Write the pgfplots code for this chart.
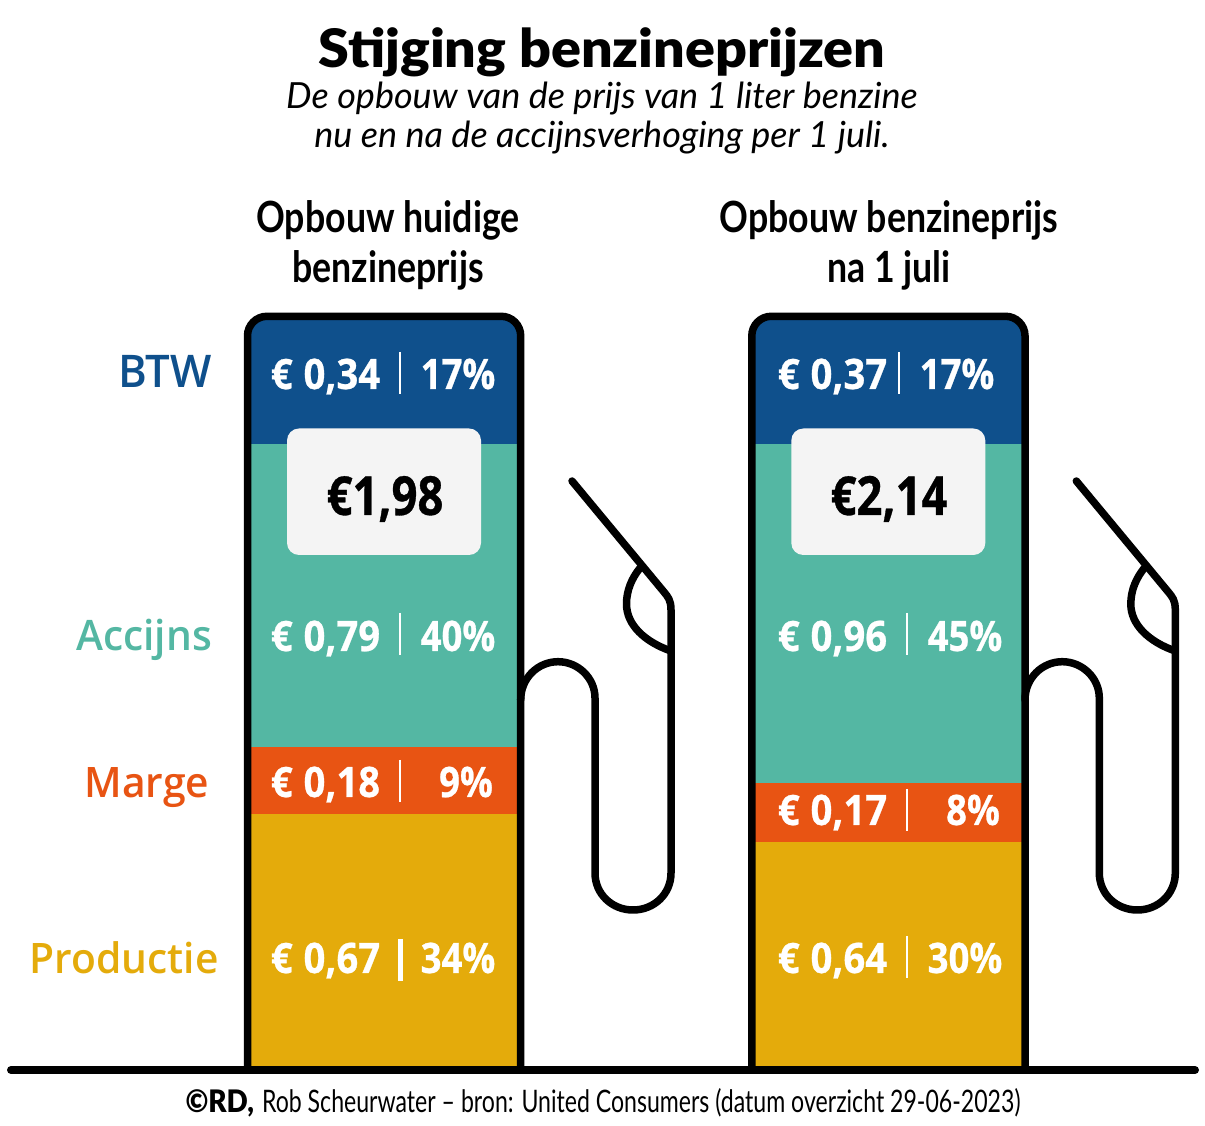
\documentclass[border=0pt]{standalone}
\usepackage{pgfplots}
\pgfplotsset{compat=1.18}
\usepackage{fontspec}
\setmainfont{Lato}
\newfontfamily\titlef[FakeStretch=1.05]{Lato Black}
\newfontfamily\subf[ItalicFont=Lato Italic]{Lato}
\newfontfamily\headf[FakeStretch=0.83]{Lato Bold}
\newfontfamily\valf[FakeStretch=0.87,FakeBold=0.6]{Open Sans Bold}
\newfontfamily\valn[FakeStretch=0.91,FakeBold=0.6]{Open Sans Bold}
\newfontfamily\boxf[FakeStretch=0.84,FakeBold=0.6]{Open Sans Bold}
\newfontfamily\labf[FakeStretch=0.97]{Open Sans Semibold}
\newfontfamily\footf[FakeStretch=0.745]{Lato}
\newfontfamily\footb[FakeStretch=0.9]{Lato Black}
\definecolor{cbtw}{HTML}{0F508C}
\definecolor{cacc}{HTML}{54B7A3}
\definecolor{cmar}{HTML}{E85413}
\definecolor{cpro}{HTML}{E4AB0B}
\definecolor{cbox}{HTML}{F4F4F4}
\pgfplotsset{pump/.style={
  hide axis, scale only axis, anchor=south west, width=267pt, height=748pt,
  xmin=-0.5, xmax=0.5, ymin=0, enlargelimits=false, clip=false,
  ybar stacked, bar width=267pt, bar shift=0pt}}
\newcommand{\T}[4]{\node[anchor=base,inner sep=0pt] at (#1,#2) {\fontsize{#3}{#3}\selectfont #4};}
\newcommand{\V}[3]{\T{#1}{#2}{42}{\valf\color{white}#3}}
\newcommand{\E}[1]{\valn €\hspace{1pt} #1}
\newcommand{\Sep}[3]{\draw[white,line width=#3] (#1,#2-21) -- (#1,#2+21);}
\newcommand{\Pump}{%
  \draw[line width=7.5pt,rounded corners=19.5pt] (247.5,1070) -- (247.5,316.3) -- (520.7,316.3) -- (520.7,1070);
  \fill[cbox,rounded corners=12pt] (287,428.5) rectangle (481,555);
  \draw[line width=7.5pt,line cap=round,line join=round]
    (520.7,700) .. controls (520.7,678) and (538,661.7) .. (558,661.7)
    .. controls (578,661.7) and (595,678) .. (595,698)
    -- (595,873) .. controls (595,894) and (612,910) .. (633,910)
    .. controls (654,910) and (671,894) .. (671,873)
    -- (671,610) .. controls (671,600) and (668,597) .. (664,592) -- (572,481);
  \draw[line width=7.5pt,line cap=round]
    (640,568) .. controls (632,578) and (626.5,590) .. (626.5,604)
    .. controls (626.5,625) and (645,642) .. (671,651);
}
\begin{document}
\begin{tikzpicture}[x=1pt,y=1pt]
\useasboundingbox (0,0) rectangle (1205pt,1125pt);
\fill[white] (0,0) rectangle (1205pt,1125pt);
\begin{axis}[pump, at={(250pt,57pt)}, ymax=1.979]
\addplot[fill=cpro,draw=none] coordinates {(0,0.672)};
\addplot[fill=cmar,draw=none] coordinates {(0,0.177)};
\addplot[fill=cacc,draw=none] coordinates {(0,0.802)};
\addplot[fill=cbtw,draw=none] coordinates {(0,0.328)};
\end{axis}
\begin{axis}[pump, at={(754.5pt,57pt)}, ymax=2.141]
\addplot[fill=cpro,draw=none] coordinates {(0,0.647)};
\addplot[fill=cmar,draw=none] coordinates {(0,0.169)};
\addplot[fill=cacc,draw=none] coordinates {(0,0.970)};
\addplot[fill=cbtw,draw=none] coordinates {(0,0.355)};
\end{axis}
\begin{scope}[x=1pt,y=-1pt,yshift=1125pt]
\Pump
\begin{scope}[xshift=504.3pt]\Pump\end{scope}
\draw[line width=8pt,line cap=round] (11,1070) -- (1195,1070);
\T{602}{68}{53}{\titlef Stijging benzineprijzen}
\T{602}{109}{36}{\subf\itshape De opbouw van de prijs van 1 liter benzine}
\T{602}{148}{36}{\subf\itshape nu en na de accijnsverhoging per 1 juli.}
\T{388}{233}{43}{\headf Opbouw huidige}
\T{388}{283}{43}{\headf benzineprijs}
\T{889}{233}{43}{\headf Opbouw benzineprijs}
\T{889}{283}{43}{\headf na 1 juli}
\T{165}{388}{45}{\labf\color{cbtw}BTW}
\T{144}{651}{42}{\labf\color{cacc}Accijns}
\T{147}{798}{42}{\labf\color{cmar}Marge}
\T{124}{974}{42}{\labf\color{cpro}Productie}
\V{325.5}{389}{\E{0,34}}\V{458}{389}{17\%}\Sep{400}{373}{2.5pt}
\V{325.5}{651}{\E{0,79}}\V{458}{651}{40\%}\Sep{400}{634}{2.5pt}
\V{325.5}{797}{\E{0,18}}\V{466}{797}{9\%}\Sep{400}{781}{2.5pt}
\V{325.5}{973}{\E{0,67}}\V{458}{973}{34\%}\Sep{400}{960}{5pt}
\V{832.5}{389}{\E{0,37}}\V{957}{389}{17\%}\Sep{899}{373}{2.5pt}
\V{832.5}{651}{\E{0,96}}\V{965}{651}{45\%}\Sep{907}{634}{2.5pt}
\V{832.5}{825}{\E{0,17}}\V{973}{825}{8\%}\Sep{907}{810}{2.5pt}
\V{832.5}{973}{\E{0,64}}\V{965}{973}{30\%}\Sep{907}{957}{2.5pt}
\T{385}{515}{54}{\boxf €1,98}
\T{889}{515}{54}{\boxf €2,14}
\T{603}{1112}{31}{{\footb ©RD,} \footf Rob Scheurwater – bron: United Consumers (datum overzicht 29-06-2023)}
\end{scope}
\end{tikzpicture}
\end{document}
